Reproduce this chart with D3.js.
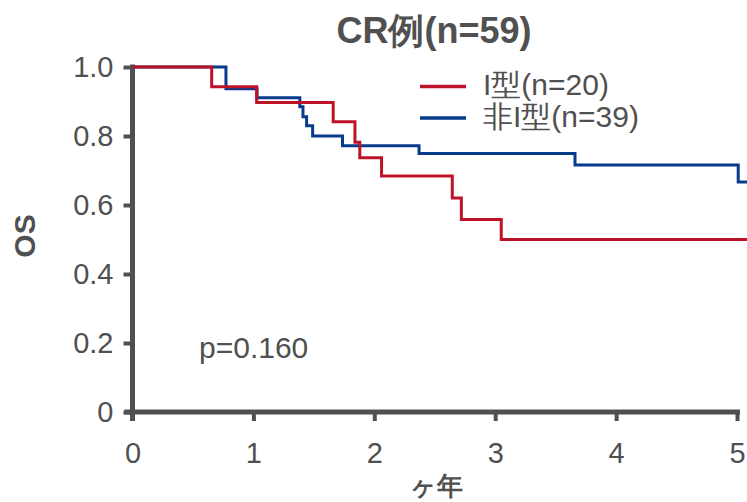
<!DOCTYPE html>
<html>
<head>
<meta charset="utf-8">
<script src="https://cdn.jsdelivr.net/npm/d3@7"></script>
<style>
    body { margin: 0; background: #fff; }
    svg { display: block; font-family: "Liberation Sans", Arial, sans-serif; }
    .axis path, .axis line { stroke: #505050; }
    .axis text { fill: #505050; }
</style>
</head>
<body>
<div id="chart"></div>
<script>
// I型 (n=20)  - time in years, survival after step
const typeITimes = [0, 0.655, 1.027, 1.66, 1.84, 1.88, 2.06, 2.645, 2.72, 3.05, 5.1];
const typeIValues = [1.0, 0.943, 0.897, 0.841, 0.782, 0.737, 0.684, 0.620, 0.558, 0.50, 0.50];

// 非I型 (n=39)
const nonITimes = [0, 0.773, 1.03, 1.384, 1.41, 1.44, 1.49, 1.737, 2.37, 3.66, 5.01, 5.1];
const nonIValues = [1.0, 0.937, 0.911, 0.885, 0.856, 0.830, 0.800, 0.772, 0.749, 0.716, 0.667, 0.667];

const legendLabels = ["I型(n=20)", "非I型(n=39)"];
const seriesColors = ["#be1229", "#073b8b"];
const xTicks = [0, 1, 2, 3, 4, 5];
const yTicks = [0, 0.2, 0.4, 0.6, 0.8, 1.0];

const width = 747, height = 502;
const margin = {top: 67, right: 10, bottom: 90, left: 132.5};
const grey = "#505050";

const svg = d3.select("#chart").append("svg")
    .attr("width", width)
    .attr("height", height);

const x = d3.scaleLinear().domain([0, 5]).range([margin.left, 737]);
const y = d3.scaleLinear().domain([0, 1]).range([412, margin.top]);

// axes
const xAxis = d3.axisBottom(x)
    .tickValues(xTicks)
    .tickFormat(d3.format("d"))
    .tickSizeInner(9)
    .tickSizeOuter(0)
    .tickPadding(21);

const yAxis = d3.axisLeft(y)
    .tickValues(yTicks)
    .tickFormat(d => d === 0 ? "0" : d3.format(".1f")(d))
    .tickSizeInner(9)
    .tickSizeOuter(0)
    .tickPadding(10);

const gx = svg.append("g")
    .attr("class", "axis x-axis")
    .attr("transform", `translate(0,${y(0)})`)
    .call(xAxis);

gx.select(".domain").attr("d", `M${x(0) - 8},0H${x(5) + 3}`);

const gy = svg.append("g")
    .attr("class", "axis y-axis")
    .attr("transform", `translate(${x(0)},0)`)
    .call(yAxis);

gy.select(".domain").attr("d", `M0,${y(1) - 2.5}V${y(0) + 9}`);

svg.selectAll(".axis .domain").attr("stroke-width", 5).attr("stroke-linecap", "butt");
svg.selectAll(".axis .tick line").attr("stroke-width", 4);
svg.selectAll(".axis text").style("font-size", "29px");
gx.selectAll("text").attr("dy", "0.71em");

// survival curves
const line = d3.line()
    .x(d => x(d[0]))
    .y(d => y(d[1]))
    .curve(d3.curveStepAfter);

const series = [
    {times: nonITimes, values: nonIValues, color: seriesColors[1]},
    {times: typeITimes, values: typeIValues, color: seriesColors[0]}
];

svg.selectAll(".km")
    .data(series)
    .enter().append("path")
    .attr("class", "km")
    .attr("fill", "none")
    .attr("stroke", d => d.color)
    .attr("stroke-width", 3)
    .attr("d", d => line(d.times.map((t, i) => [t, d.values[i]])));

// title
svg.append("text")
    .attr("x", 434)
    .attr("y", 43)
    .attr("text-anchor", "middle")
    .attr("fill", grey)
    .style("font-size", "36px")
    .style("font-weight", "bold")
    .text("CR例(n=59)");

// legend
const legend = svg.append("g").attr("class", "legend");

legendLabels.forEach((label, i) => {
    const ly = 86.5 + i * 31.5;
    legend.append("line")
        .attr("x1", 420).attr("x2", 466)
        .attr("y1", ly).attr("y2", ly)
        .attr("stroke", seriesColors[i])
        .attr("stroke-width", 3.5);
    legend.append("text")
        .attr("x", 483)
        .attr("y", ly + 8.5)
        .attr("fill", grey)
        .style("font-size", "30px")
        .text(label);
});

// p value
svg.append("text")
    .attr("x", 199)
    .attr("y", 358)
    .attr("fill", grey)
    .style("font-size", "30px")
    .text("p=0.160");

// axis titles
svg.append("text")
    .attr("transform", `translate(35,236) rotate(-90)`)
    .attr("text-anchor", "middle")
    .attr("fill", grey)
    .style("font-size", "30px")
    .style("font-weight", "bold")
    .text("OS");

svg.append("text")
    .attr("x", 436)
    .attr("y", 495)
    .attr("text-anchor", "middle")
    .attr("fill", grey)
    .style("font-size", "26px")
    .style("font-weight", "bold")
    .text("ヶ年");
</script>
</body>
</html>
